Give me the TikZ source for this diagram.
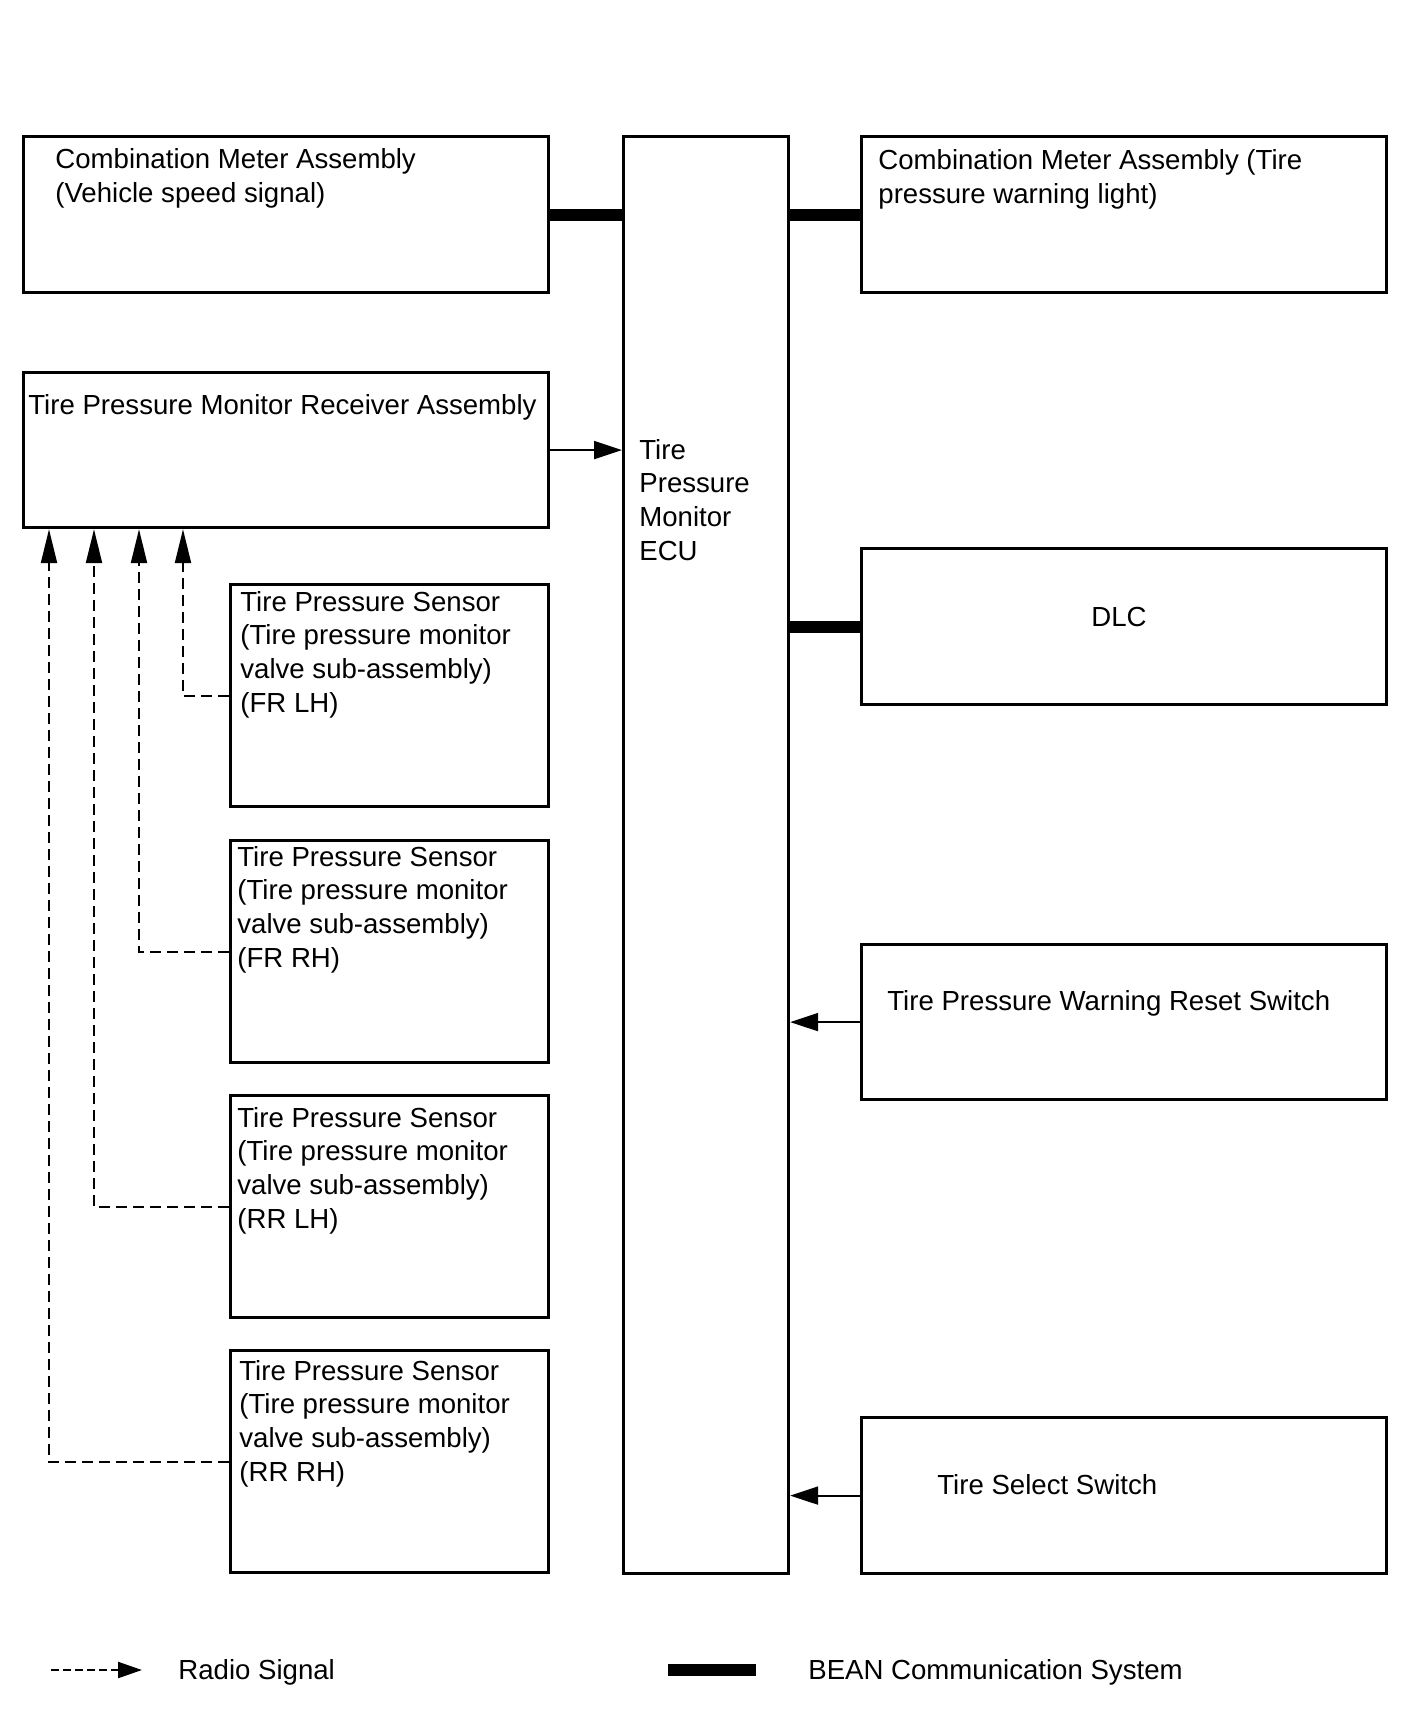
\documentclass[tikz,border=0pt]{standalone}
\usepackage{fontspec}
\setmainfont{Liberation Sans}
\usetikzlibrary{arrows.meta,positioning,calc}

\begin{document}
\begin{tikzpicture}[x=0.5pt,y=-0.5pt,
    unitbox/.style={draw,line width=1.6pt,inner sep=0pt,anchor=north west,minimum width=262.5pt,minimum height=78pt},
    sensorbox/.style={draw,line width=1.6pt,inner sep=0pt,anchor=north west,minimum width=159pt,minimum height=111pt},
    lbl/.style={font=\fontsize{13.8pt}{16.8pt}\selectfont,align=left,anchor=base west,inner sep=0pt},
    bean/.style={line width=6pt},
    sig/.style={line width=1pt,-{Triangle[length=14pt,width=9pt]}},
    radio/.style={line width=1.1pt,dash pattern=on 5.5pt off 3pt,-{Triangle[length=17pt,width=8pt]}}]
    \useasboundingbox (0,0) rectangle (1408,1710);

    % ECU in the middle (labels sit on the baseline of their last line)
    \node[draw,line width=1.6pt,inner sep=0pt,anchor=north west,minimum width=82.5pt,minimum height=718.5pt] (ecu) at (622,135) {};
    \node[lbl] (ecutxt) at (639,560) {Tire\\Pressure\\Monitor\\ECU};

    % Left column
    \node[unitbox] (cmL) at (22,135) {};
    \node[lbl] (cmLtxt) at (55,202) {Combination Meter Assembly\\(Vehicle speed signal)};
    \node[unitbox,minimum height=77.5pt] (rcv) at (22,371) {};
    \node[lbl] (rcvtxt) at (28,414) {Tire Pressure Monitor Receiver Assembly};

    % Sensors
    \node[sensorbox] (s1) at (229,583) {};
    \node[lbl] (s1txt) at (240,712) {Tire Pressure Sensor\\(Tire pressure monitor\\valve sub-assembly)\\(FR LH)};
    \node[sensorbox] (s2) at (229,839) {};
    \node[lbl] (s2txt) at (237,967) {Tire Pressure Sensor\\(Tire pressure monitor\\valve sub-assembly)\\(FR RH)};
    \node[sensorbox] (s3) at (229,1094) {};
    \node[lbl] (s3txt) at (237,1228) {Tire Pressure Sensor\\(Tire pressure monitor\\valve sub-assembly)\\(RR LH)};
    \node[sensorbox] (s4) at (229,1349) {};
    \node[lbl] (s4txt) at (239,1481) {Tire Pressure Sensor\\(Tire pressure monitor\\valve sub-assembly)\\(RR RH)};

    % Right column
    \node[unitbox] (cmR) at (860,135) {};
    \node[lbl] (cmRtxt) at (878,203) {Combination Meter Assembly (Tire\\pressure warning light)};
    \node[unitbox] (dlc) at (860,547) {};
    \node[lbl,anchor=center] (dlctxt) at (1119,617) {DLC};
    \node[unitbox,minimum height=77.5pt] (rst) at (860,943) {};
    \node[lbl] (rsttxt) at (887,1010) {Tire Pressure Warning Reset Switch};
    \node[unitbox] (sel) at (860,1416) {};
    \node[lbl] (seltxt) at (937,1494) {Tire Select Switch};

    % BEAN lines
    \draw[bean] (cmL.east) -- (cmL.east -| ecu.west);
    \draw[bean] (cmR.west) -- (cmR.west -| ecu.east);
    \draw[bean] (dlc.west) -- (dlc.west -| ecu.east);

    % signals
    \draw[sig] (rcv.east) -- (rcv.east -| ecu.west);
    \draw[sig] (rst.west) -- (rst.west -| ecu.east);
    \draw[sig] (sel.west) -- (sel.west -| ecu.east);

    % radio signals
    \draw[radio] (s1.west) -| ($(rcv.south west)+(161,0)$);
    \draw[radio] (s2.west) -| ($(rcv.south west)+(117,0)$);
    \draw[radio] (s3.west) -| ($(rcv.south west)+(72,0)$);
    \draw[radio] (s4.west) -| ($(rcv.south west)+(27,0)$);

    % Legend
    \coordinate (radioA) at (51,1670);
    \coordinate (radioB) at (142,1670);
    \draw[radio,dash pattern=on 4pt off 2pt,-{Triangle[length=12pt,width=8pt]}] (radioA) -- (radioB);
    \node[lbl] (radiotxt) at (178,1679) {Radio Signal};
    \coordinate (beanA) at (668,1670);
    \coordinate (beanB) at (756,1670);
    \draw[bean] (beanA) -- (beanB);
    \node[lbl] (beantxt) at (808,1679) {BEAN Communication System};
\end{tikzpicture}
\end{document}
